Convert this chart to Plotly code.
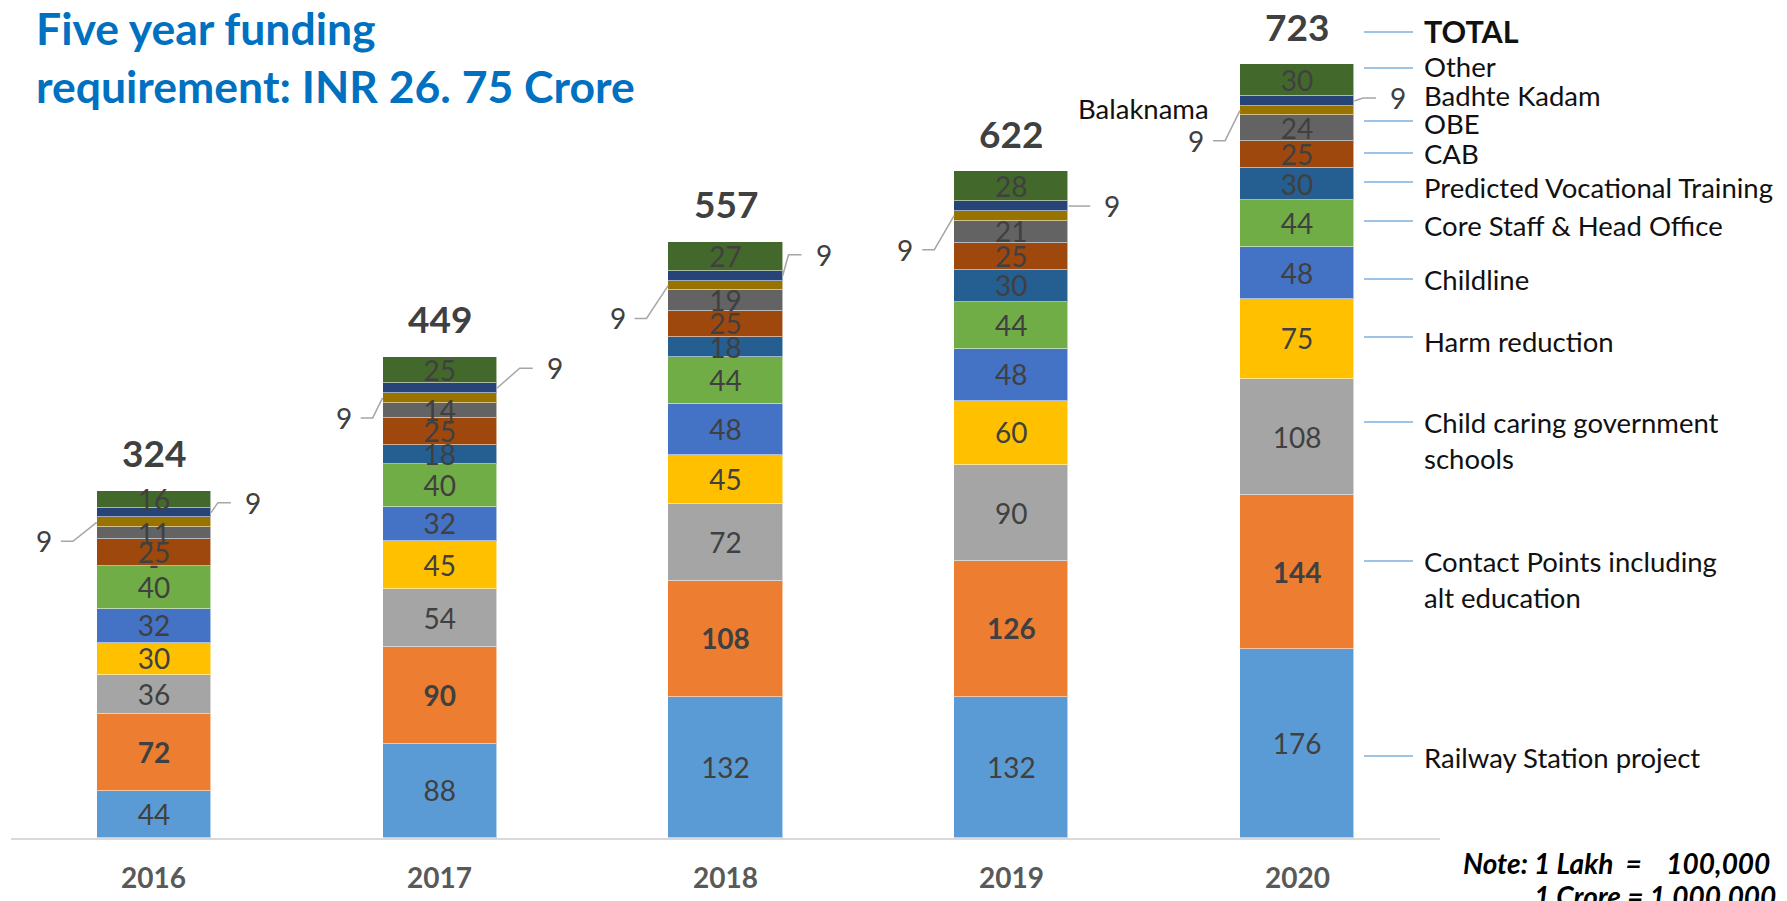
import plotly.graph_objects as go

# ---------------- data ----------------
years = [2016, 2017, 2018, 2019, 2020]
year_labels = ["2016", "2017", "2018", "2019", "2020"]

series_names = [
    "Railway Station project",
    "Contact Points including alt education",
    "Child caring government schools",
    "Harm reduction",
    "Childline",
    "Core Staff & Head Office",
    "Predicted Vocational Training",
    "CAB",
    "OBE",
    "Balaknama",
    "Badhte Kadam",
    "Other",
]
railway = [44, 88, 132, 132, 176]
contact_points = [72, 90, 108, 126, 144]
child_caring = [36, 54, 72, 90, 108]
harm_reduction = [30, 45, 45, 60, 75]
childline = [32, 32, 48, 48, 48]
core_staff = [40, 40, 44, 44, 44]
vocational = [0, 18, 18, 30, 30]
cab = [25, 25, 25, 25, 25]
obe = [11, 14, 19, 21, 24]
balaknama = [9, 9, 9, 9, 9]
badhte_kadam = [9, 9, 9, 9, 9]
other = [16, 25, 27, 28, 30]
totals = [324, 449, 557, 622, 723]

series_values = [railway, contact_points, child_caring, harm_reduction, childline,
                 core_staff, vocational, cab, obe, balaknama, badhte_kadam, other]

# ---------------- styles ----------------
colors = ["#5B9BD5", "#ED7D31", "#A5A5A5", "#FFC000", "#4472C4", "#70AD47",
          "#255E91", "#9E480E", "#636363", "#997300", "#264478", "#43682B"]
inside_label = [True, True, True, True, True, True, True, True, True, False, False, True]
bold_label = [False, True, False, False, False, False, False, False, False, False, False, False]

FONT = "Lato"
OFF = 8                      # page body margin of the html page
W, H = 1787 - OFF, 901 - OFF
ML, MT, MB = 11 - OFF, 10 - OFF, 63
MR = W - (1440 - OFF)
PLOT_W = W - ML - MR
PLOT_H = H - MT - MB
Y_MAX = 772.4
PX_X = PLOT_W / 5.0          # pixels per x unit
PX_Y = PLOT_H / Y_MAX        # pixels per y unit
BAR_W = 0.4
LABEL_COLOR = "#404040"
SEG_SIZE = 28
SEG_TEXT_DROP = 3.5          # px, optical centring of labels in segments

def px_to_paper_x(px):       # px given in page pixels
    return (px - OFF - ML) / PLOT_W

def px_to_paper_y(py):
    return (H - MB - (py - OFF)) / PLOT_H

fig = go.Figure()

# stacked bars
for name, vals, col in zip(series_names, series_values, colors):
    fig.add_trace(go.Bar(
        x=years, y=vals, name=name, width=BAR_W,
        marker=dict(color=col, line=dict(color="rgba(255,255,255,0.55)", width=1)),
        showlegend=False, hoverinfo="skip",
    ))

# cumulative bases / centers
bases = []
running = [0] * len(years)
for vals in series_values:
    bases.append(list(running))
    running = [r + v for r, v in zip(running, vals)]
stack_tops = running

# inside segment labels
for k, vals in enumerate(series_values):
    if not inside_label[k]:
        continue
    centers = [b + v / 2.0 - SEG_TEXT_DROP / PX_Y for b, v in zip(bases[k], vals)]
    texts = []
    for v in vals:
        t = str(v) if v != 0 else "-"
        texts.append("<b>%s</b>" % t if bold_label[k] else t)
    fig.add_trace(go.Scatter(
        x=years, y=centers, mode="text", text=texts,
        textfont=dict(family=FONT, size=SEG_SIZE, color=LABEL_COLOR),
        textposition="middle center", showlegend=False, hoverinfo="skip",
        cliponaxis=False,
    ))

annotations = []
shapes = []

# total labels above bars
for x, top, tot in zip(years, stack_tops, totals):
    annotations.append(dict(
        x=x, y=top, xref="x", yref="y", text="<b>%d</b>" % tot, showarrow=False,
        yshift=38, yanchor="middle", xanchor="center",
        font=dict(family=FONT, size=37, color=LABEL_COLOR),
    ))

# category labels
for x, lab in zip(years, year_labels):
    annotations.append(dict(
        x=x, y=0, xref="x", yref="y", text="<b>%s</b>" % lab, showarrow=False,
        yshift=-39, yanchor="middle", xanchor="center",
        font=dict(family=FONT, size=28, color="#595959"),
    ))

# external "9" labels with leader lines (Balaknama left, Badhte Kadam right)
left_dx = [-110, -96, -108, -106, -101]
left_dy = [19, 20, 33, 34, 30]
right_dx = [99, 115, 98, 101, 101]
right_dy = [-10, -20, -21, 0, -3]
iB = series_names.index("Balaknama")
iK = series_names.index("Badhte Kadam")
LEADER = dict(color="#A6A6A6", width=1.5)
for j, x in enumerate(years):
    bc = bases[iB][j] + balaknama[j] / 2.0
    lx = x + left_dx[j] / PX_X
    ly = bc - left_dy[j] / PX_Y
    annotations.append(dict(
        x=lx, y=ly, xref="x", yref="y", text=str(balaknama[j]), showarrow=False,
        xanchor="center", yanchor="middle",
        font=dict(family=FONT, size=SEG_SIZE, color=LABEL_COLOR)))
    shapes.append(dict(
        type="path", xref="x", yref="y", line=LEADER,
        path="M %f,%f L %f,%f L %f,%f" % (lx + 17 / PX_X, ly, lx + 29 / PX_X, ly,
                                          x - BAR_W / 2, bc)))
    kc = bases[iK][j] + badhte_kadam[j] / 2.0
    rx = x + right_dx[j] / PX_X
    ry = kc - right_dy[j] / PX_Y
    annotations.append(dict(
        x=rx, y=ry, xref="x", yref="y", text=str(badhte_kadam[j]), showarrow=False,
        xanchor="center", yanchor="middle",
        font=dict(family=FONT, size=SEG_SIZE, color=LABEL_COLOR)))
    shapes.append(dict(
        type="path", xref="x", yref="y", line=LEADER,
        path="M %f,%f L %f,%f L %f,%f" % (x + BAR_W / 2, kc, rx - 35 / PX_X, ry,
                                          rx - 22 / PX_X, ry)))

# right-hand series labels (page-pixel layout positions)
RL = 27.5
right_labels = [
    ("<b>TOTAL</b>", 31, 32, 30.5),
    ("Other", 67, 68, RL),
    ("Badhte Kadam", 95, None, RL),
    ("OBE", 124, 121, RL),
    ("CAB", 153, 153, RL),
    ("Predicted Vocational Training", 188, 182, RL),
    ("Core Staff & Head Office", 225, 221, RL),
    ("Childline", 279, 279, RL),
    ("Harm reduction", 341, 337, RL),
    ("Child caring government<br>schools", 423, 422, RL),
    ("Contact Points including<br>alt education", 562, 561, RL),
    ("Railway Station project", 757, 756, RL),
]
for text, ty, ly, size in right_labels:
    nlines = text.count("<br>") + 1
    annotations.append(dict(
        x=px_to_paper_x(1422), y=px_to_paper_y(ty), xref="paper", yref="paper",
        text=text, showarrow=False, xanchor="left",
        yanchor="middle" if nlines == 1 else "top",
        yshift=0 if nlines == 1 else size * 0.68,
        align="left", font=dict(family=FONT, size=size, color="#111111"),
    ))
    if ly is not None:
        shapes.append(dict(
            type="line", xref="paper", yref="paper",
            x0=px_to_paper_x(1364), x1=px_to_paper_x(1413),
            y0=px_to_paper_y(ly), y1=px_to_paper_y(ly),
            line=dict(color="#9DC3E6", width=2)))

annotations.append(dict(
    x=px_to_paper_x(1143), y=px_to_paper_y(109), xref="paper", yref="paper",
    text="Balaknama", showarrow=False, xanchor="center", yanchor="middle",
    font=dict(family=FONT, size=RL, color="#111111")))

# title
annotations.append(dict(
    x=px_to_paper_x(34), y=px_to_paper_y(28), xref="paper", yref="paper",
    text="<b>Five year funding</b>", showarrow=False, xanchor="left", yanchor="middle",
    font=dict(family=FONT, size=44.5, color="#0070C0")))
annotations.append(dict(
    x=px_to_paper_x(34), y=px_to_paper_y(86), xref="paper", yref="paper",
    text="<b>requirement: INR 26. 75 Crore</b>", showarrow=False, xanchor="left",
    yanchor="middle", font=dict(family=FONT, size=44.5, color="#0070C0")))

# note
NB = "\u00a0"
annotations.append(dict(
    x=px_to_paper_x(1772), y=px_to_paper_y(863), xref="paper", yref="paper",
    text="<b><i>Note: 1 Lakh" + NB * 2 + "=" + NB * 4 + "100,000</i></b>",
    showarrow=False, xanchor="right", yanchor="middle",
    font=dict(family=FONT, size=28, color="#000000")))
annotations.append(dict(
    x=px_to_paper_x(1778), y=px_to_paper_y(896), xref="paper", yref="paper",
    text="<b><i>1 Crore = 1,000,000</i></b>",
    showarrow=False, xanchor="right", yanchor="middle",
    font=dict(family=FONT, size=28, color="#000000")))

fig.update_layout(
    width=W, height=H,
    margin=dict(l=ML, r=MR, t=MT, b=MB, pad=0),
    barmode="stack", bargap=0,
    plot_bgcolor="white", paper_bgcolor="white",
    xaxis=dict(range=[years[0] - 0.5, years[-1] + 0.5], showticklabels=False,
               showgrid=False, zeroline=False, showline=True,
               linecolor="#D9D9D9", linewidth=2, ticks="", fixedrange=True),
    yaxis=dict(range=[0, Y_MAX], visible=False, showgrid=False, zeroline=False,
               fixedrange=True),
    annotations=annotations,
    shapes=shapes,
    font=dict(family=FONT),
)

fig.write_html("out.html", config={"displayModeBar": False})
